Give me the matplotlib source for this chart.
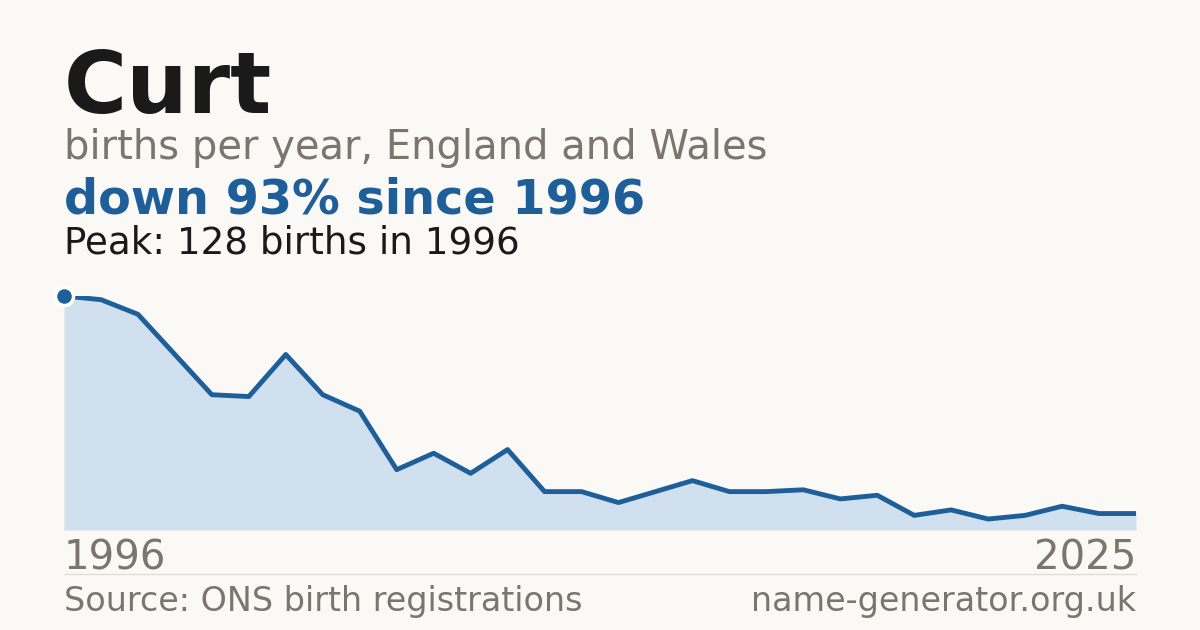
import matplotlib
matplotlib.use("Agg")
import matplotlib.pyplot as plt

# births per year for the name
years = list(range(1996, 2026))
births = [128, 126, 118, 96, 74, 73, 96, 74, 65, 33,
          42, 31, 44, 21, 21, 15, 21, 27, 21, 21,
          22, 17, 19, 8, 11, 6, 8, 13, 9, 9]

name = "Curt"
subtitle = "births per year, England and Wales"
change_text = "down 93% since 1996"
peak_text = "Peak: 128 births in 1996"
source_text = "Source: ONS birth registrations"
site_text = "name-generator.org.uk"

bg = "#faf9f5"
blue = "#1f5f99"
fill_col = "#d0e0ef"
grey = "#7a756d"
dark = "#1a1a1a"

W, H = 1200, 630
fig = plt.figure(figsize=(12, 6.3), dpi=100, facecolor=bg)

def fy(px):
    return 1 - px / H

fig.text(64 / W, fy(113), name, fontsize=62, fontweight="bold", color=dark, va="baseline")
fig.text(64 / W, fy(159), subtitle, fontsize=28.8, color=grey, va="baseline")
fig.text(64 / W, fy(214), change_text, fontsize=34.4, fontweight="bold", color=blue, va="baseline")
fig.text(64 / W, fy(253), peak_text, fontsize=26.8, color=dark, va="baseline")

ax = fig.add_axes([64 / W, fy(530), (1136 - 64) / W, (530 - 296) / H])
ax.set_facecolor(bg)
ax.fill_between(years, births, 0, color=fill_col, lw=0)
ax.plot(years, births, color=blue, lw=3.5)
ax.plot(years[0], births[0], "o", ms=13, color=blue, mec="white", mew=2.5, clip_on=False, zorder=5)
ax.axhline(0, color="#e2ddd4", lw=1)
ax.set_xlim(years[0], years[-1])
ax.set_ylim(0, max(births))
ax.axis("off")

fig.text(64 / W, fy(570), str(years[0]), fontsize=29, color=grey, va="baseline")
fig.text(1136 / W, fy(570), str(years[-1]), fontsize=29, color=grey, va="baseline", ha="right")

fig.add_artist(plt.Line2D([64 / W, 1136 / W], [fy(574), fy(574)], color="#e2ddd4", lw=1))

fig.text(64 / W, fy(611), source_text, fontsize=24, color=grey, va="baseline")
fig.text(1136 / W, fy(611), site_text, fontsize=24, color=grey, va="baseline", ha="right")

fig.savefig("out.png", dpi=100, facecolor=bg)
